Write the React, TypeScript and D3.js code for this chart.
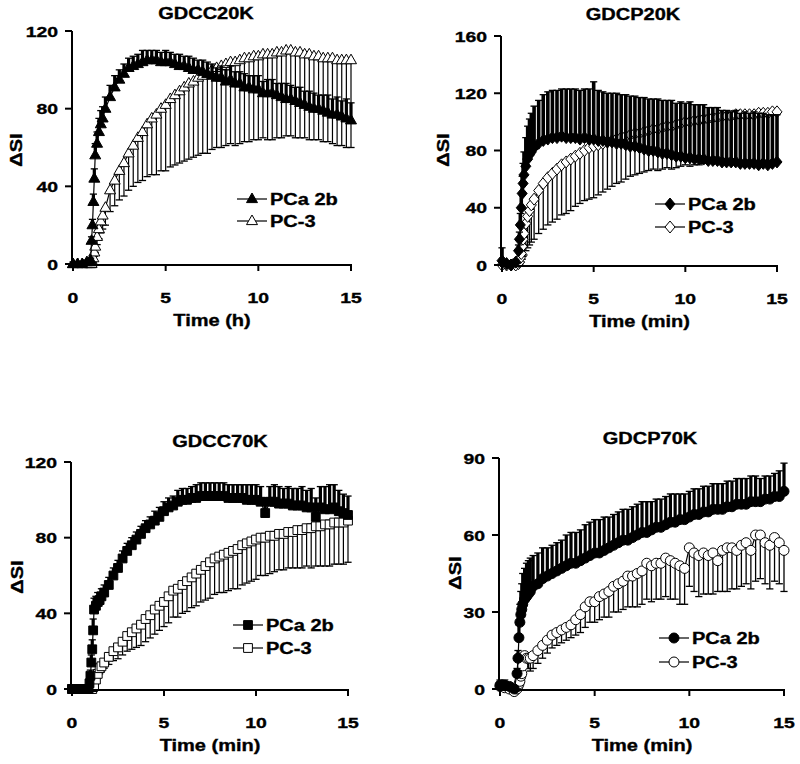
import React from 'react';
import * as d3 from 'd3';

// Shared sampling times (min / h)
const TIME = [
  0, 0.25, 0.5, 0.75, 0.9, 0.95, 1.0, 1.05, 1.1, 1.15,
  1.2, 1.3, 1.4, 1.5, 1.6, 1.75, 2.0, 2.25, 2.5, 2.75,
  3.0, 3.25, 3.5, 3.75, 4.0, 4.25, 4.5, 4.75, 5.0, 5.25,
  5.5, 5.75, 6.0, 6.25, 6.5, 6.75, 7.0, 7.25, 7.5, 7.75,
  8.0, 8.25, 8.5, 8.75, 9.0, 9.25, 9.5, 9.75, 10.0, 10.25,
  10.5, 10.75, 11.0, 11.25, 11.5, 11.75, 12.0, 12.25, 12.5, 12.75,
  13.0, 13.25, 13.5, 13.75, 14.0, 14.25, 14.5, 14.75, 15.0,
];

const SERIES_NAMES = ['PCa 2b', 'PC-3'];

// GDCC20K
const CC20_PCA = [
  0, 0, 0, 1, 1, 2, 12, 20, 32, 44,
  56, 62, 68, 72, 75, 80, 86, 91, 95, 98,
  101, 102, 103, 104, 105, 105, 105, 104, 104, 104,
  103, 102, 102, 101, 100, 100, 99, 98, 97, 96,
  96, 94, 95, 93, 93, 91, 91, 90, 90, 88,
  88, 88, 87, 86, 85, 85, 84, 83, 82, 81,
  80, 80, 79, 78, 77, 77, 76, 75, 74,
];
const CC20_PCA_ERR = [
  1, 1, 1, 1, 1, 1, 2, 3, 4, 5,
  6, 6, 7, 7, 6, 6, 6, 6, 5, 5,
  5, 5, 5, 6, 5, 5, 5, 5, 6, 5,
  5, 6, 5, 6, 6, 5, 6, 6, 6, 5,
  6, 6, 7, 6, 6, 7, 6, 7, 7, 6,
  7, 7, 6, 7, 8, 7, 7, 8, 7, 8,
  8, 7, 8, 9, 8, 9, 8, 10, 9,
];
const CC20_PC3 = [
  0, 0, 0, 0, 0, 0, 0, 1, 3, 6,
  9, 14, 18, 22, 25, 29, 38, 43, 48, 52,
  57, 61, 65, 68, 72, 75, 77, 80, 82, 85,
  87, 89, 91, 93, 94, 96, 97, 98, 100, 101,
  102, 103, 104, 104, 105, 106, 106, 107, 107, 108,
  108, 108, 109, 109, 110, 110, 109, 109, 108, 108,
  107, 107, 106, 106, 106, 105, 105, 105, 105,
];
const CC20_PC3_ERR = [
  1, 1, 1, 1, 1, 1, 1, 1, 2, 2,
  3, 4, 5, 6, 7, 9, 11, 13, 15, 17,
  19, 21, 23, 25, 27, 29, 31, 32, 34, 35,
  36, 37, 38, 39, 39, 40, 40, 41, 41, 41,
  42, 42, 42, 43, 43, 43, 43, 43, 43, 43,
  44, 44, 44, 44, 44, 44, 44, 44, 43, 44,
  43, 43, 43, 43, 44, 44, 44, 45, 45,
];

// GDCP20K
const CP20_PCA = [
  3, 1, 0, 2, 10, 18, 28, 40, 50, 57,
  63, 69, 74, 77, 79, 82, 85, 87, 88, 89,
  89, 90, 89, 89, 89, 88, 89, 88, 88, 87,
  87, 86, 86, 85, 85, 84, 83, 83, 82, 81,
  80, 80, 79, 78, 78, 77, 76, 76, 75, 75,
  74, 74, 74, 73, 73, 73, 72, 72, 72, 72,
  71, 71, 71, 71, 70, 71, 70, 71, 72,
];
const CP20_PCA_ERR = [
  9, 2, 1, 2, 4, 5, 8, 10, 12, 14,
  16, 20, 23, 25, 27, 29, 30, 32, 33, 33,
  33, 33, 34, 34, 34, 34, 34, 35, 40, 35,
  34, 34, 34, 35, 34, 35, 35, 35, 35, 36,
  36, 36, 37, 37, 37, 38, 37, 38, 38, 39,
  38, 38, 38, 37, 37, 37, 36, 36, 35, 36,
  35, 36, 35, 36, 36, 35, 35, 34, 33,
];
const CP20_PC3 = [
  0, 0, 0, 0, 1, 2, 5, 8, 13, 18,
  22, 29, 34, 38, 42, 46, 52, 57, 61, 64,
  67, 70, 72, 74, 76, 78, 80, 82, 83, 84,
  85, 86, 87, 88, 89, 90, 91, 92, 92, 93,
  94, 95, 95, 96, 97, 97, 98, 99, 100, 100,
  101, 101, 102, 102, 103, 103, 104, 104, 104, 105,
  105, 105, 105, 105, 106, 106, 106, 107, 107,
];
const CP20_PC3_ERR = [
  0, 0, 0, 0, 1, 2, 4, 6, 9, 12,
  15, 19, 22, 24, 26, 28, 30, 32, 33, 34,
  35, 35, 36, 36, 35, 35, 35, 36, 36, 35,
  34, 33, 32, 31, 31, 30, 29, 29, 28, 28,
  28, 28, 29, 29, 29, 30, 30, 30, 30, 31,
  31, 31, 31, 31, 31, 31, 32, 32, 32, 32,
  32, 32, 33, 33, 33, 33, 34, 34, 34,
];

// GDCC70K
const CC70_PCA = [
  0, 0, 0, 0, 0, 3, 7, 14, 21, 31,
  42, 44, 46, 47, 49, 51, 55, 60, 64, 69,
  73, 76, 79, 82, 85, 87, 89, 91, 94, 96,
  97, 99, 100, 100, 101, 101, 102, 102, 102, 102,
  102, 102, 101, 101, 101, 101, 100, 100, 100, 99,
  93, 99, 99, 98, 98, 98, 97, 97, 97, 96,
  96, 91, 96, 95, 95, 96, 94, 93, 92,
];
const CC70_PCA_ERR = [
  1, 1, 1, 1, 1, 2, 3, 4, 5, 6,
  6, 5, 5, 4, 4, 4, 4, 4, 4, 4,
  4, 4, 4, 4, 4, 4, 5, 5, 5, 5,
  5, 6, 6, 6, 6, 7, 7, 7, 7, 7,
  7, 7, 7, 7, 7, 7, 8, 8, 8, 8,
  8, 8, 9, 9, 8, 9, 9, 9, 10, 9,
  10, 10, 11, 12, 13, 12, 11, 10, 10,
];
const CC70_PC3 = [
  0, 0, 0, 0, 0, 0, 0, 0, 0, 1,
  2, 5, 8, 11, 12, 14, 17, 20, 22, 25,
  28, 30, 32, 34, 37, 39, 42, 44, 46, 49,
  52, 53, 55, 57, 59, 61, 63, 65, 67, 69,
  70, 71, 72, 73, 74, 76, 77, 78, 79, 80,
  80, 81, 81, 82, 82, 83, 83, 84, 84, 85,
  85, 86, 86, 87, 87, 88, 88, 88, 89,
];
const CC70_PC3_ERR = [
  0, 0, 0, 0, 0, 0, 0, 0, 0, 1,
  1, 2, 2, 3, 3, 3, 4, 5, 6, 7,
  8, 9, 10, 11, 12, 12, 13, 13, 13, 14,
  14, 15, 15, 16, 16, 17, 17, 18, 19, 19,
  19, 20, 20, 20, 21, 21, 21, 21, 21, 20,
  20, 20, 19, 19, 19, 19, 19, 20, 20, 20,
  21, 21, 21, 22, 22, 22, 22, 22, 22,
];

// GDCP70K
const CP70_PCA = [
  1.5, 1.5, 1, 0, 6, 12, 20, 26, 29, 31,
  33, 35, 36, 37, 38, 40, 41, 43, 44, 45,
  46, 47, 48, 49, 49, 50, 51, 52, 53, 53,
  54, 55, 56, 57, 58, 58, 59, 60, 61, 61,
  62, 63, 63, 64, 65, 65, 66, 66, 67, 68,
  68, 69, 69, 70, 70, 70, 71, 71, 72, 72,
  72, 73, 73, 73, 74, 74, 75, 75, 77,
];
const CP70_PCA_ERR = [
  2, 2, 1, 1, 2, 3, 5, 7, 9, 10,
  12, 12, 13, 13, 13, 12, 12, 12, 11, 11,
  11, 11, 12, 12, 12, 12, 13, 13, 13, 13,
  13, 12, 12, 12, 12, 12, 12, 12, 12, 12,
  11, 11, 11, 11, 11, 11, 10, 10, 10, 10,
  10, 10, 10, 10, 10, 10, 10, 10, 10, 10,
  10, 10, 10, 9, 9, 9, 9, 10, 11,
];
const CP70_PC3 = [
  1, 0.5, 0, -1, 0, 1, 2, 3, 5, 6,
  9, 13, 12, 12, 12, 13, 15, 17, 19, 21,
  22, 23, 24, 25, 27, 29, 32, 34, 34, 36,
  37, 38, 40, 41, 42, 44, 44, 45, 46, 49,
  48, 49, 49, 51, 50, 49, 48, 47, 55, 53,
  52, 53, 52, 53, 50, 54, 55, 55, 54, 56,
  57, 54, 60, 60, 57, 56, 59, 57, 54,
];
const CP70_PC3_ERR = [
  1, 0, 0, 0, 0, 1, 1, 1, 2, 2,
  3, 4, 4, 4, 5, 5, 5, 5, 5, 5,
  5, 5, 5, 5, 6, 7, 8, 8, 8, 9,
  9, 10, 10, 11, 11, 12, 12, 13, 13, 14,
  14, 14, 14, 15, 15, 14, 15, 14, 15, 15,
  16, 16, 15, 16, 12, 16, 17, 16, 15, 16,
  16, 15, 18, 17, 16, 17, 17, 16, 16,
];

const X_TICKS = [0, 5, 10, 15];

const FONT = '"Liberation Sans", Arial, Helvetica, sans-serif';
const SX = 1.25;

type Shape = 'triangle' | 'diamond' | 'square' | 'circle';

function markerPath(shape: Shape): string {
  switch (shape) {
    case 'triangle':
      return 'M0,-6L5.5,3.6L-5.5,3.6Z';
    case 'diamond':
      return 'M0,-6L5,0L0,6L-5,0Z';
    case 'square':
      return 'M-4.4,-4.4L4.4,-4.4L4.4,4.4L-4.4,4.4Z';
    default:
      return 'M5,0A5,5,0,1,1,-5,0A5,5,0,1,1,5,0Z';
  }
}

function Label(props: { x: number; y: number; size: number; anchor?: string; rotate?: number; children: any }) {
  const { x, y, size, anchor = 'middle', rotate = 0, children } = props;
  return (
    <g transform={`translate(${x},${y}) rotate(${rotate}) scale(${SX},1)`}>
      <text
        x={0}
        y={0}
        fontSize={size}
        fontWeight="bold"
        fontFamily={FONT}
        textAnchor={anchor as any}
        fill="#000"
        stroke="#000"
        strokeWidth={0.35}
      >
        {children}
      </text>
    </g>
  );
}

interface PanelCfg {
  title: string;
  titleX: number;
  titleY: number;
  xLabel: string;
  x0: number;
  x1: number;
  yTopPx: number;
  yBotPx: number;
  yMax: number;
  yTicks: number[];
  shapes: [Shape, Shape];
  pca: number[];
  pcaErr: number[];
  pc3: number[];
  pc3Err: number[];
  pcaErrWidth: number;
  pc3ErrWidth: number;
  legendX: number;
  legendY: [number, number];
  yLabelX: number;
  yLabelY: number;
}

function Series(props: { xs: any; ys: any; vals: number[]; errs: number[]; dir: number; shape: Shape; filled: boolean; errWidth: number }) {
  const { xs, ys, vals, errs, dir, shape, filled, errWidth } = props;
  const pts = TIME.map((t, i) => ({ t, v: vals[i], e: errs[i] })).filter((d) => d.v !== undefined);
  const line = d3
    .line<{ t: number; v: number }>()
    .x((d) => xs(d.t))
    .y((d) => ys(d.v));
  const p = markerPath(shape);
  return (
    <g>
      <g stroke="#000">
        {pts.map((d, i) => {
          if (!d.e) return null;
          const x = xs(d.t);
          const yEnd = ys(d.v + dir * d.e);
          return (
            <g key={i}>
              <line x1={x} x2={x} y1={ys(d.v)} y2={yEnd} strokeWidth={errWidth} />
              <line x1={x - 3.6} x2={x + 3.6} y1={yEnd} y2={yEnd} strokeWidth={1.3} />
            </g>
          );
        })}
      </g>
      <path d={line(pts) || ''} fill="none" stroke="#000" strokeWidth={1.2} />
      <g>
        {pts.map((d, i) => (
          <path
            key={i}
            d={p}
            transform={`translate(${xs(d.t)},${ys(d.v)})`}
            fill={filled ? '#000' : '#fff'}
            stroke="#000"
            strokeWidth={1}
          />
        ))}
      </g>
    </g>
  );
}

function Panel({ cfg }: { cfg: PanelCfg }) {
  const xs = d3.scaleLinear().domain([0, 15]).range([cfg.x0, cfg.x1]);
  const ys = d3.scaleLinear().domain([0, cfg.yMax]).range([cfg.yBotPx, cfg.yTopPx]);
  const axisY = cfg.yBotPx + 1;
  const axisX = cfg.x0 - 1;
  return (
    <g>
      <Label x={cfg.titleX} y={cfg.titleY} size={16}>{cfg.title}</Label>
      {/* series: PC-3 underneath, PCa 2b on top */}
      <Series xs={xs} ys={ys} vals={cfg.pc3} errs={cfg.pc3Err} dir={-1} shape={cfg.shapes[1]} filled={false} errWidth={cfg.pc3ErrWidth} />
      <Series xs={xs} ys={ys} vals={cfg.pca} errs={cfg.pcaErr} dir={1} shape={cfg.shapes[0]} filled={true} errWidth={cfg.pcaErrWidth} />
      {/* y axis */}
      <line x1={axisX} x2={axisX} y1={ys(cfg.yMax)} y2={axisY + 1} stroke="#000" strokeWidth={2} />
      {cfg.yTicks.map((t) => (
        <g key={'y' + t}>
          <line x1={axisX - 7} x2={axisX} y1={ys(t)} y2={ys(t)} stroke="#000" strokeWidth={2} />
          <Label x={axisX - 14} y={ys(t) + 5.5} size={15.5} anchor="end">{t}</Label>
        </g>
      ))}
      {/* x axis */}
      <line x1={axisX - 1} x2={xs(15) + 1} y1={axisY} y2={axisY} stroke="#000" strokeWidth={2} />
      {X_TICKS.map((t) => (
        <g key={'x' + t}>
          <line x1={xs(t)} x2={xs(t)} y1={axisY} y2={axisY + 6} stroke="#000" strokeWidth={2} />
          <Label x={xs(t)} y={axisY + 38} size={15.5}>{t}</Label>
        </g>
      ))}
      <Label x={(cfg.x0 + cfg.x1) / 2} y={axisY + 61} size={16}>{cfg.xLabel}</Label>
      <Label x={cfg.yLabelX} y={cfg.yLabelY} size={16} rotate={-90}>ΔSI</Label>
      {/* legend */}
      {SERIES_NAMES.map((name, i) => {
        const ly = cfg.legendY[i];
        return (
          <g key={name}>
            <line x1={cfg.legendX} x2={cfg.legendX + 30} y1={ly} y2={ly} stroke="#000" strokeWidth={1.2} />
            <path d={markerPath(cfg.shapes[i])} transform={`translate(${cfg.legendX + 15},${ly})`} fill={i === 0 ? '#000' : '#fff'} stroke="#000" />
            <Label x={cfg.legendX + 33} y={ly + 6} size={16} anchor="start">{name}</Label>
          </g>
        );
      })}
    </g>
  );
}

const PANELS: PanelCfg[] = [
  {
    title: 'GDCC20K', titleX: 206, titleY: 19, xLabel: 'Time (h)',
    x0: 73, x1: 351, yTopPx: 31, yBotPx: 264, yMax: 120, yTicks: [0, 40, 80, 120],
    shapes: ['triangle', 'triangle'],
    pca: CC20_PCA, pcaErr: CC20_PCA_ERR, pc3: CC20_PC3, pc3Err: CC20_PC3_ERR,
    pcaErrWidth: 3.2, pc3ErrWidth: 1.2,
    legendX: 237, legendY: [199, 221], yLabelX: 22, yLabelY: 150,
  },
  {
    title: 'GDCP20K', titleX: 633, titleY: 20, xLabel: 'Time (min)',
    x0: 502, x1: 777, yTopPx: 36, yBotPx: 265, yMax: 160, yTicks: [0, 40, 80, 120, 160],
    shapes: ['diamond', 'diamond'],
    pca: CP20_PCA, pcaErr: CP20_PCA_ERR, pc3: CP20_PC3, pc3Err: CP20_PC3_ERR,
    pcaErrWidth: 3.6, pc3ErrWidth: 1.3,
    legendX: 655, legendY: [204, 227], yLabelX: 449, yLabelY: 150,
  },
  {
    title: 'GDCC70K', titleX: 220, titleY: 447, xLabel: 'Time (min)',
    x0: 72, x1: 348, yTopPx: 462, yBotPx: 689, yMax: 120, yTicks: [0, 40, 80, 120],
    shapes: ['square', 'square'],
    pca: CC70_PCA, pcaErr: CC70_PCA_ERR, pc3: CC70_PC3, pc3Err: CC70_PC3_ERR,
    pcaErrWidth: 3.2, pc3ErrWidth: 1.2,
    legendX: 233, legendY: [625, 648], yLabelX: 23, yLabelY: 577,
  },
  {
    title: 'GDCP70K', titleX: 650, titleY: 444, xLabel: 'Time (min)',
    x0: 500, x1: 784, yTopPx: 458, yBotPx: 689, yMax: 90, yTicks: [0, 30, 60, 90],
    shapes: ['circle', 'circle'],
    pca: CP70_PCA, pcaErr: CP70_PCA_ERR, pc3: CP70_PC3, pc3Err: CP70_PC3_ERR,
    pcaErrWidth: 3.2, pc3ErrWidth: 1.3,
    legendX: 659, legendY: [638, 662], yLabelX: 461, yLabelY: 573,
  },
];

export default function App() {
  return (
    <svg
      width={800}
      height={764}
      viewBox="0 0 800 764"
      style={{ position: 'absolute', left: 0, top: 0, background: '#fff' }}
    >
      <rect x={0} y={0} width={800} height={764} fill="#fff" />
      {PANELS.map((p) => (
        <Panel key={p.title} cfg={p} />
      ))}
    </svg>
  );
}
